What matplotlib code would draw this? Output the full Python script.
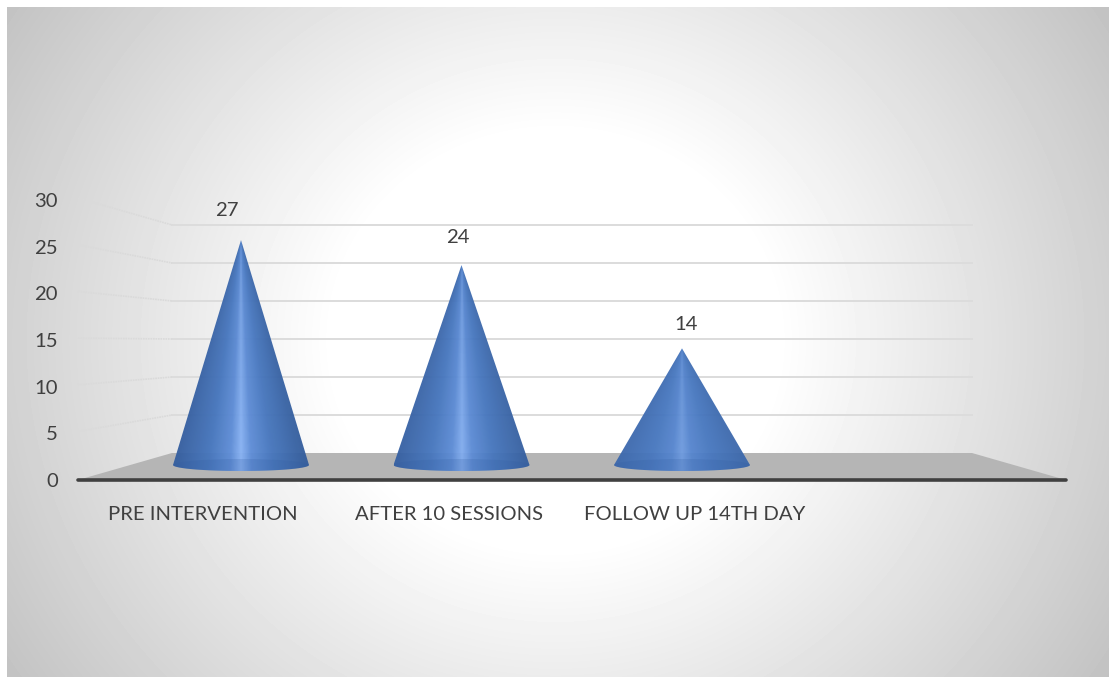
import numpy as np
import matplotlib
matplotlib.use("Agg")
import matplotlib.pyplot as plt
from matplotlib.patches import Polygon, Ellipse, Rectangle
from matplotlib.path import Path
from matplotlib.colors import LinearSegmentedColormap, to_rgb

categories = ["PRE INTERVENTION", "AFTER 10 SESSIONS", "FOLLOW UP 14TH DAY"]
values = [27, 24, 14]
yticks = [0, 5, 10, 15, 20, 25, 30]

W, H = 1109, 677
plt.rcParams['font.family'] = ['Lato', 'DejaVu Sans']

fig = plt.figure(figsize=(W / 100, H / 100), dpi=100, facecolor='white')

# radial background behind everything
bg = fig.add_axes([0, 0, 1, 1], zorder=0)
bg.set_xlim(0, W)
bg.set_ylim(H, 0)
bg.axis('off')
xx, yy = np.meshgrid(np.arange(W), np.arange(H))
r = np.sqrt(((xx - 555) / 555) ** 2 + ((yy - 340) / 520) ** 2)
shade = 1 - 0.24 * np.clip((r - 0.40) / 0.79, 0, 1) ** 1.0
img = bg.imshow(shade, cmap='gray', vmin=0, vmax=1, extent=(0, W, H, 0), aspect='auto')
frame = Rectangle((7, 7), W - 7, H - 7, fc='none', ec='none')
bg.add_patch(frame)
img.set_clip_path(frame)

# chart axes: x = category index, y = value on the front plane
px_l, px_r, px_top, px_bot = 78, 1066, 200, 480
ax = fig.add_axes([px_l / W, 1 - px_bot / H, (px_r - px_l) / W, (px_bot - px_top) / H], zorder=1)
ax.patch.set_alpha(0)
xlim = ((px_l - 241) / 220.5, (px_r - 241) / 220.5)
ax.set_xlim(*xlim)
ax.set_ylim(0, 30)
for s in ax.spines.values():
    s.set_visible(False)

# back wall sits deeper, so its scale is squeezed
depth_dx = 94 / 220.5
wall_off = 27 / 9.333
wall_k = 38 / 5 / 9.333
wall_l = xlim[0] + depth_dx
wall_r = xlim[1] - depth_dx


def wall_y(v):
    return wall_off + wall_k * v


ax.add_patch(Polygon([(xlim[0], 0), (wall_l, wall_off), (wall_r, wall_off), (xlim[1], 0)],
                     fc='#b5b5b5', ec='none', zorder=1))
for v in yticks[1:]:
    ax.plot([wall_l, wall_r], [wall_y(v)] * 2, color='#dcdcdc', lw=1.4, zorder=1)
    ax.plot([xlim[0], wall_l], [v + 0.2, wall_y(v)], color='#dadada', lw=1.2, ls=(0, (1, 0.5)), zorder=1,
            clip_on=False)
ax.plot(xlim, [0, 0], color='#404040', lw=2.6, solid_capstyle='round', zorder=2, clip_on=False)

cone_cmap = LinearSegmentedColormap.from_list('cone', [
    (0.00, '#355e9f'), (0.25, '#4575bc'), (0.42, '#5f8ed8'), (0.50, '#8ab4f5'),
    (0.58, '#5f8ed8'), (0.75, '#4575bc'), (1.00, '#345d9c')])
muted = np.array(to_rgb('#4a7ac2'))
highlight = [1.0, 0.9, 0.6]

half_w = 68 / 220.5
base_y = 15 / 9.333
ell_h = 12 / 9.333
cone_k = 8.33 / 9.333

for i, val in enumerate(values):
    tip = base_y + val * cone_k
    verts = [(i - half_w, base_y)]
    codes = [Path.MOVETO]
    verts.append((i, tip))
    codes.append(Path.LINETO)
    verts.append((i + half_w, base_y))
    codes.append(Path.LINETO)
    # lower half of the base ellipse
    for t in np.linspace(0, np.pi, 30):
        verts.append((i + half_w * np.cos(t), base_y - ell_h / 2 * np.sin(t)))
        codes.append(Path.LINETO)
    verts.append((i - half_w, base_y))
    codes.append(Path.CLOSEPOLY)

    # shading converges on the tip like a real cone
    gx, gy = np.meshgrid(np.linspace(-1, 1, 300), np.linspace(1, 0, 300))
    narrow = np.maximum(1 - gy, 0.02)
    u = np.clip(gx / narrow, -1, 1) * 0.5 + 0.5
    rgb = cone_cmap(u)[..., :3]
    rgb = muted + (rgb - muted) * highlight[i] * (0.55 + 0.45 * (1 - gy))[..., None]
    im = ax.imshow(rgb, aspect='auto', alpha=0.96,
                   extent=(i - half_w, i + half_w, base_y - ell_h / 2, tip), zorder=3)
    im.set_clip_path(Path(verts, codes), transform=ax.transData)
    # floor of the cone seen through the shell
    ax.add_patch(Ellipse((i, base_y), 2 * half_w, ell_h, fc='#2f5a9f', ec='none', alpha=0.2, zorder=4))

ax.set_xlim(*xlim)
ax.set_ylim(0, 30)

label_dx = [-14, -4, 4]
label_dy = [13, 11, 7]
for i, val in enumerate(values):
    tip = base_y + val * cone_k
    ax.annotate(str(val), (i, tip), xytext=(label_dx[i] * 0.72, (label_dy[i] + 8) * 0.72),
                textcoords='offset points', ha='center', va='bottom', fontsize=14.6,
                color='#404040', zorder=5)

ax.set_yticks(yticks)
ax.set_yticklabels([str(v) for v in yticks], fontsize=14.6, color='#404040')
ax.tick_params(axis='y', length=0, pad=14.5)

# category labels are spread wider than the cones
ax.set_xticks([(203 - 241) / 220.5, (449 - 241) / 220.5, (695 - 241) / 220.5])
ax.set_xticklabels(categories, fontsize=14.6, color='#404040')
ax.tick_params(axis='x', length=0, pad=18.5)

fig.savefig('out.png', dpi=100)
